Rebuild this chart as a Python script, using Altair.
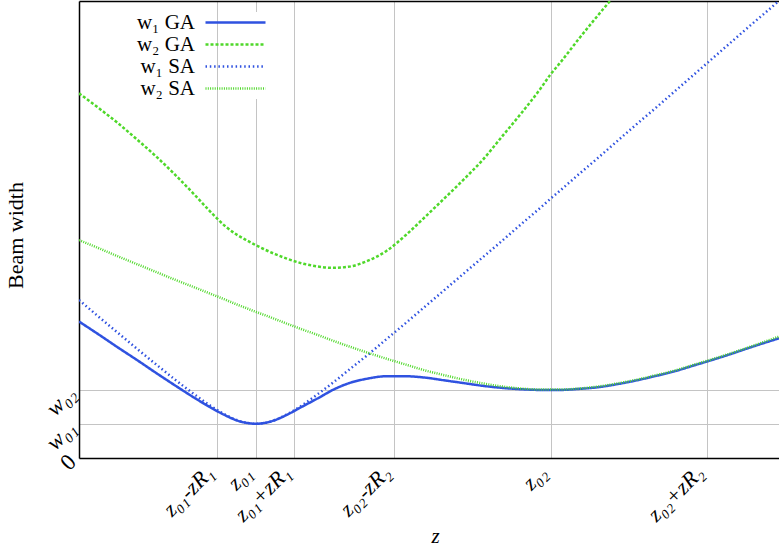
import json
import altair as alt
import pandas as pd

# Propagation distance samples (shared by all four curves)
z = [0, 0.5, 1.0, 1.5, 2.0, 2.5, 3.0, 3.4, 3.8, 4.1, 4.4, 4.6, 4.8, 5.1, 5.4,
     5.8, 6.2, 6.6, 7.0, 7.5, 8.0, 8.5, 9.0, 9.5, 10.0, 10.5, 11.0, 11.5, 12.0,
     12.25, 12.5, 13.0, 13.5, 14.0, 14.5, 15.0, 15.5, 16.0, 16.5, 17.0, 17.5,
     18.0, 18.2]

# Beam widths
w1_ga = [3.99, 3.62, 3.24, 2.87, 2.49, 2.12, 1.76, 1.49, 1.25, 1.10, 1.02, 1.00,
         1.02, 1.11, 1.26, 1.50, 1.74, 1.99, 2.18, 2.32, 2.39, 2.39, 2.35, 2.27,
         2.19, 2.11, 2.05, 2.01, 1.99, 1.99, 1.99, 2.02, 2.07, 2.16, 2.27, 2.40,
         2.54, 2.71, 2.88, 3.06, 3.25, 3.43, 3.50]
w2_ga = [10.66, 10.24, 9.80, 9.32, 8.82, 8.28, 7.70, 7.22, 6.78, 6.53, 6.34, 6.22,
         6.11, 5.96, 5.83, 5.69, 5.60, 5.56, 5.59, 5.76, 6.06, 6.52, 7.05, 7.59,
         8.14, 8.72, 9.40, 10.08, 10.80, 11.20, 11.54, 12.26, 12.95, 13.62, 14.30]
w1_sa = [4.62, 4.14, 3.67, 3.20, 2.74, 2.29, 1.86, 1.54, 1.27, 1.11, 1.02, 1.00,
         1.02, 1.11, 1.27, 1.54, 1.86, 2.20, 2.56, 3.01, 3.48, 3.95, 4.43, 4.91,
         5.39, 5.87, 6.35, 6.84, 7.32, 7.57, 7.81, 8.30, 8.78, 9.27, 9.76, 10.24,
         10.73, 11.22, 11.71, 12.20, 12.69, 13.17, 13.37]
w2_sa = [6.37, 6.14, 5.90, 5.67, 5.44, 5.21, 4.99, 4.81, 4.63, 4.49, 4.36, 4.27,
         4.19, 4.06, 3.93, 3.76, 3.60, 3.43, 3.27, 3.08, 2.90, 2.73, 2.56, 2.42,
         2.29, 2.18, 2.09, 2.03, 2.00, 2.00, 2.00, 2.03, 2.09, 2.18, 2.29, 2.42,
         2.56, 2.73, 2.90, 3.08, 3.27, 3.47, 3.55]

series_names = ["w₁ GA", "w₂ GA", "w₁ SA", "w₂ SA"]
series_values = [w1_ga, w2_ga, w1_sa, w2_sa]
series_colors = ["#2f52e0", "#4fd82a", "#2f52e0", "#4fd82a"]
series_dash = [[1, 0], [3, 2], [1.5, 2.8], [1, 1.3]]
series_width = [2.5, 2.5, 1.3, 1.0]

# Axis ticks and their labels
z_ticks = [3.6, 4.6, 5.6, 8.2, 12.27, 16.34]
z_tick_labels = ["z₀₁-zR₁", "z₀₁", "z₀₁+zR₁", "z₀₂-zR₂", "z₀₂", "z₀₂+zR₂"]
w_ticks = [0, 1, 2, 13.36]
w_tick_labels = ["0", "w₀₁", "w₀₂", ""]

z_max = 18.2
w_max = 13.36

rows = []
for name, vals in zip(series_names, series_values):
    for zz, ww in zip(z, vals):
        rows.append({"series": name, "z": zz, "w": ww})
df = pd.DataFrame(rows)

FONT = "Liberation Serif"


def label_expr(values, labels):
    return (f"{json.dumps(labels, ensure_ascii=False)}"
            f"[indexof({json.dumps(values)}, datum.value)]")


x_axis = alt.Axis(
    values=z_ticks, labelExpr=label_expr(z_ticks, z_tick_labels),
    labelAngle=315, labelAlign="right", labelBaseline="middle", labelPadding=11,
    labelOffset={"expr": "-8"},
    labelFont=FONT, labelFontSize=22, labelFontStyle="italic", labelColor="black",
    labelOverlap=False, labelBound=False, labelFlush=False,
    ticks=False, grid=True, gridColor="#c4c4c4", gridWidth=1,
    domain=True, domainColor="black", domainWidth=1.5,
    title="z", titleFont=FONT, titleFontSize=21, titleFontStyle="italic",
    titleFontWeight="normal", titleColor="black",
    titleX=356, titleY=78, titleBaseline="middle", titleAlign="center",
)

y_axis = alt.Axis(
    values=w_ticks, labelExpr=label_expr(w_ticks, w_tick_labels),
    labelAngle=315, labelAlign="right", labelBaseline="middle", labelPadding=7,
    labelFont=FONT, labelFontSize=23, labelColor="black",
    labelFontStyle={"condition": {"test": "datum.value === 0", "value": "normal"},
                    "value": "italic"},
    labelOverlap=False, labelBound=False, labelFlush=False,
    ticks=False, grid=True,
    gridColor={"condition": {"test": "datum.value > 13", "value": "black"},
               "value": "#c4c4c4"},
    gridWidth={"condition": {"test": "datum.value > 13", "value": 1.5},
               "value": 1},
    domain=True, domainColor="black", domainWidth=1.5,
    title="Beam width", titleFont=FONT, titleFontSize=22, titleFontWeight="normal",
    titleColor="black", titleX=-64, titleY=234, titleBaseline="middle",
    titleAlign="center", titleAngle=270,
)

# A long horizontal line sample, with labels placed to its left
legend = alt.Legend(
    title=None, orient="none", legendX=146, legendY=11,
    symbolType="M-6,0H6", symbolSize=100,
    labelAlign="right", labelOffset={"expr": "-51"}, labelFont=FONT,
    labelFontSize=21, labelColor="black", labelLimit=0,
    fillColor="white", padding=0, rowPadding=0,
)

x_enc = alt.X("z:Q", scale=alt.Scale(domain=[0, z_max], nice=False, zero=False),
              axis=x_axis)
y_enc = alt.Y("w:Q", scale=alt.Scale(domain=[0, w_max], nice=False), axis=y_axis)
color_enc = alt.Color("series:N", scale=alt.Scale(domain=series_names,
                                                  range=series_colors),
                      legend=legend)
dash_enc = alt.StrokeDash("series:N", scale=alt.Scale(domain=series_names,
                                                      range=series_dash),
                          legend=legend)
width_enc = alt.StrokeWidth("series:N", scale=alt.Scale(domain=series_names,
                                                        range=series_width),
                            legend=legend)

layers = []
for name in series_names:
    layers.append(
        alt.Chart(df)
        .transform_filter(alt.datum.series == name)
        .mark_line(clip=True, interpolate="monotone")
        .encode(x=x_enc, y=y_enc, color=color_enc, strokeDash=dash_enc,
                strokeWidth=width_enc)
    )

chart = (
    alt.layer(*layers)
    .properties(
        width=700, height=457,
        autosize=alt.AutoSizeParams(type="none"),
        padding={"left": 79, "top": 1, "right": 0, "bottom": 95},
        background="white",
    )
    .configure_view(stroke=None)
)

chart.save("out.html", embed_options={"renderer": "svg", "actions": False})
